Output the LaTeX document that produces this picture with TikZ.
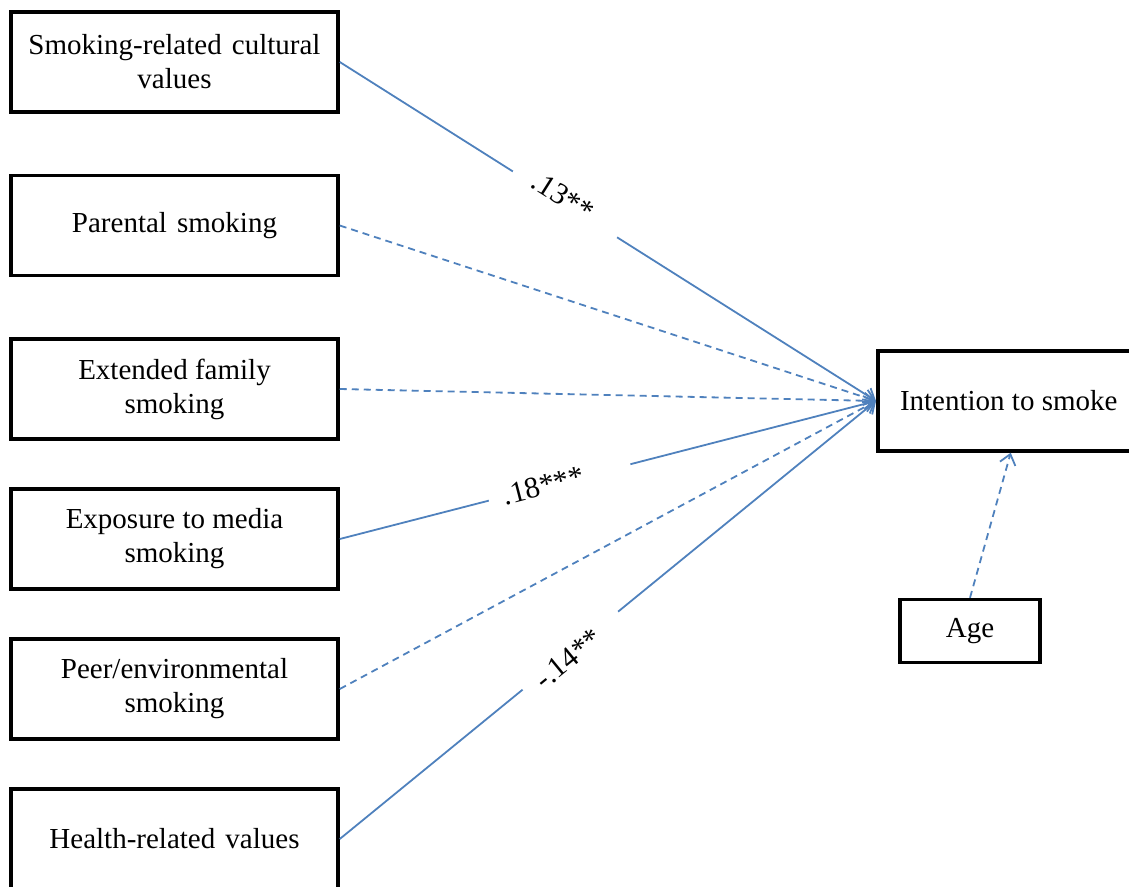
\documentclass[tikz,border=0pt]{standalone}
\usepackage{fontspec}
\setmainfont{Liberation Serif}
\usetikzlibrary{arrows.meta,calc}
\definecolor{linkblue}{HTML}{4F81BD}
\begin{document}
\begin{tikzpicture}[x=1pt,y=-1pt,
  box/.style={draw=black,line width=3.5pt,fill=white,minimum width=327pt,minimum height=100pt,
    align=center,inner sep=2pt,font=\fontsize{29}{34}\selectfont},
  link/.style={draw=linkblue,line width=1.8pt,-{Straight Barb[length=10pt,width=16pt,line width=1.8pt]}},
  dlink/.style={link,dash pattern=on 7pt off 5pt},
  gap/.style={sloped,fill=white,inner sep=0pt,minimum height=6pt},
  coef/.style={sloped,inner sep=2pt,font=\fontsize{30}{34}\selectfont}]
\useasboundingbox (0,0) rectangle (1129,886);
\clip (0,0) rectangle (1129,886);
\node[box] (cult) at (174.5,62) {Smoking-related\hspace{0.1em} cultural\\values};
\node[box] (par) at (174.5,225.5) {Parental\hspace{0.1em} smoking};
\node[box] (ext) at (174.5,389) {Extended family\\smoking};
\node[box] (med) at (174.5,539) {Exposure to media\\smoking};
\node[box] (peer) at (174.5,689) {Peer/environmental\\smoking};
\node[box] (hlth) at (174.5,839) {Health-related\hspace{0.1em} values};
\node[box,minimum width=262pt,anchor=west] (int) at (876,401) {Intention to smoke};
\node[box,minimum width=140pt,minimum height=63pt] (age) at (970,631) {Age};
\coordinate (agetip) at ([xshift=2pt]int.south);
\draw[link] (cult.east) -- node[gap,pos=0.42,minimum width=123pt]{} node[coef,pos=0.41,above=-7pt]{.13**} (int.west);
\draw[dlink] (par.east) -- (int.west);
\draw[dlink] (ext.east) -- (int.west);
\draw[link] (med.east) -- node[gap,pos=0.41,minimum width=146pt]{} node[coef,pos=0.38,above=-12pt]{.18***} (int.west);
\draw[dlink] (peer.east) -- (int.west);
\draw[link] (hlth.east) -- node[gap,pos=0.43,minimum width=123pt]{} node[coef,pos=0.42,below=-8pt]{-.14**} (int.west);
\draw[dlink] (age.north) -- (agetip);
\end{tikzpicture}
\end{document}
